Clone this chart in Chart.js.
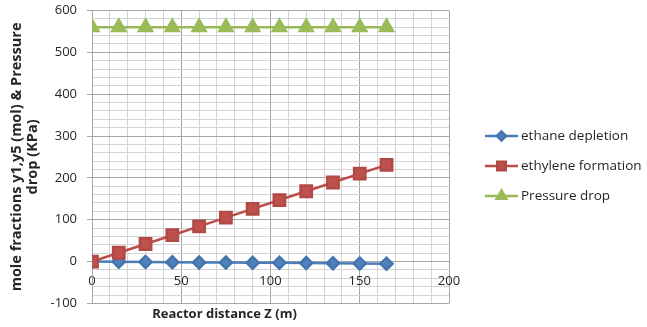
<!DOCTYPE html>
<html>
<head>
<meta charset="utf-8">
<script src="https://cdn.jsdelivr.net/npm/chart.js@4/dist/chart.umd.min.js"></script>
<style>
  body { margin: 0; background: #fff; }
  canvas { display: block; }
</style>
</head>
<body>
<canvas id="reactorChart" width="647" height="327"></canvas>
<script>
// Data
const distances = [0, 15, 30, 45, 60, 75, 90, 105, 120, 135, 150, 165];
const ethaneDepletion = [0, -0.5, -1, -1.5, -2, -2.5, -3, -3, -3.5, -4, -4.5, -5];
const ethyleneFormation = [0, 21, 42, 63, 84, 105, 126, 147, 168, 189, 210, 231];
const pressureDrop = [560, 560, 560, 560, 560, 560, 560, 560, 560, 560, 560, 560];
const seriesNames = ['ethane depletion', 'ethylene formation', 'Pressure drop'];

const FONT = '"Open Sans", Lato, sans-serif';
const TEXT = '#262626';

function toPoints(ys) {
    return distances.map((x, i) => ({ x: x, y: ys[i] }));
}

// legend drawn as line + marker like the spreadsheet version
const lineLegend = {
    id: 'lineLegend',
    afterDraw(chart) {
        const ctx = chart.ctx;
        const x0 = 485, x1 = 518, tx = 521;
        const rows = [136, 166, 196];
        chart.data.datasets.forEach((ds, i) => {
            const y = rows[i];
            ctx.save();
            ctx.strokeStyle = ds.borderColor;
            ctx.lineWidth = 2.5;
            ctx.beginPath();
            ctx.moveTo(x0, y);
            ctx.lineTo(x1, y);
            ctx.stroke();
            ctx.fillStyle = ds.pointBackgroundColor;
            ctx.strokeStyle = ds.pointBorderColor;
            Chart.helpers.drawPoint(ctx, {
                pointStyle: ds.pointStyle,
                radius: ds.pointRadius * 0.75,
                rotation: 0,
                borderWidth: 1
            }, (x0 + x1) / 2, y);
            ctx.fillStyle = TEXT;
            ctx.font = '13.5px ' + FONT;
            ctx.textBaseline = 'middle';
            ctx.textAlign = 'left';
            ctx.fillText(ds.label, tx, y);
            ctx.restore();
        });
    }
};

const ctx = document.getElementById('reactorChart').getContext('2d');
new Chart(ctx, {
    type: 'line',
    data: {
        datasets: [{
            label: seriesNames[0],
            data: toPoints(ethaneDepletion),
            borderColor: '#4A7EBB',
            borderWidth: 2.5,
            pointStyle: 'rectRot',
            pointRadius: 6,
            pointBackgroundColor: '#4F81BD',
            pointBorderColor: '#4675AE',
            order: 3
        }, {
            label: seriesNames[1],
            data: toPoints(ethyleneFormation),
            borderColor: '#BE4B48',
            borderWidth: 2.5,
            pointStyle: 'rect',
            pointRadius: 8,
            pointBackgroundColor: '#C0504D',
            pointBorderColor: '#B04A47',
            order: 2
        }, {
            label: seriesNames[2],
            data: toPoints(pressureDrop),
            borderColor: '#98B954',
            borderWidth: 2.5,
            pointStyle: 'triangle',
            pointRadius: 7.5,
            pointBackgroundColor: '#9BBB59',
            pointBorderColor: '#9BBB59',
            order: 1
        }]
    },
    options: {
        responsive: false,
        animation: false,
        devicePixelRatio: 1,
        layout: { padding: { top: 0, right: 198, left: 0, bottom: 0 } },
        plugins: {
            legend: { display: false },
            tooltip: { enabled: false },
            title: {
                display: true,
                position: 'bottom',
                text: 'Reactor distance Z (m)',
                color: TEXT,
                font: { family: FONT, size: 13, weight: 'bold' },
                padding: { top: 3, bottom: 5 }
            }
        },
        scales: {
            x: {
                type: 'linear',
                position: { y: 0 },
                min: 0,
                max: 200,
                // axis sits on y = 0, so it should not take any layout room
                afterFit(scale) {
                    scale.height = 0;
                    scale.paddingTop = 0;
                    scale.paddingBottom = 0;
                },
                ticks: {
                    stepSize: 10,
                    autoSkip: false,
                    maxRotation: 0,
                    padding: 12,
                    color: TEXT,
                    font: { family: FONT, size: 13 },
                    callback: v => (v % 50 === 0 ? v : '')
                },
                grid: {
                    drawTicks: false,
                    color: c => (c.tick && c.tick.value % 50 === 0 ? '#a6a6a6' : '#d4d4d4')
                },
                border: { color: '#a6a6a6' }
            },
            y: {
                min: -100,
                max: 600,
                afterFit(scale) {
                    scale.width = 92;
                    scale.paddingTop = 6;
                    scale.paddingBottom = 0;
                },
                ticks: {
                    stepSize: 20,
                    autoSkip: false,
                    padding: 10,
                    color: TEXT,
                    font: { family: FONT, size: 13 },
                    callback: v => (v % 100 === 0 ? v : '')
                },
                grid: {
                    tickLength: 5,
                    color: c => (c.tick && c.tick.value % 100 === 0 ? '#a6a6a6' : '#d4d4d4'),
                    tickColor: c => (c.tick && c.tick.value % 100 === 0 ? '#a6a6a6' : 'rgba(0,0,0,0)')
                },
                border: { color: '#a6a6a6' },
                title: {
                    display: true,
                    text: ['mole fractions y1,y5 (mol) & Pressure', 'drop (KPa)'],
                    color: TEXT,
                    font: { family: FONT, size: 14.5, weight: 'bold', lineHeight: 1.1 },
                    padding: { top: 9, bottom: 0 }
                }
            }
        }
    },
    plugins: [lineLegend]
});
</script>
</body>
</html>
